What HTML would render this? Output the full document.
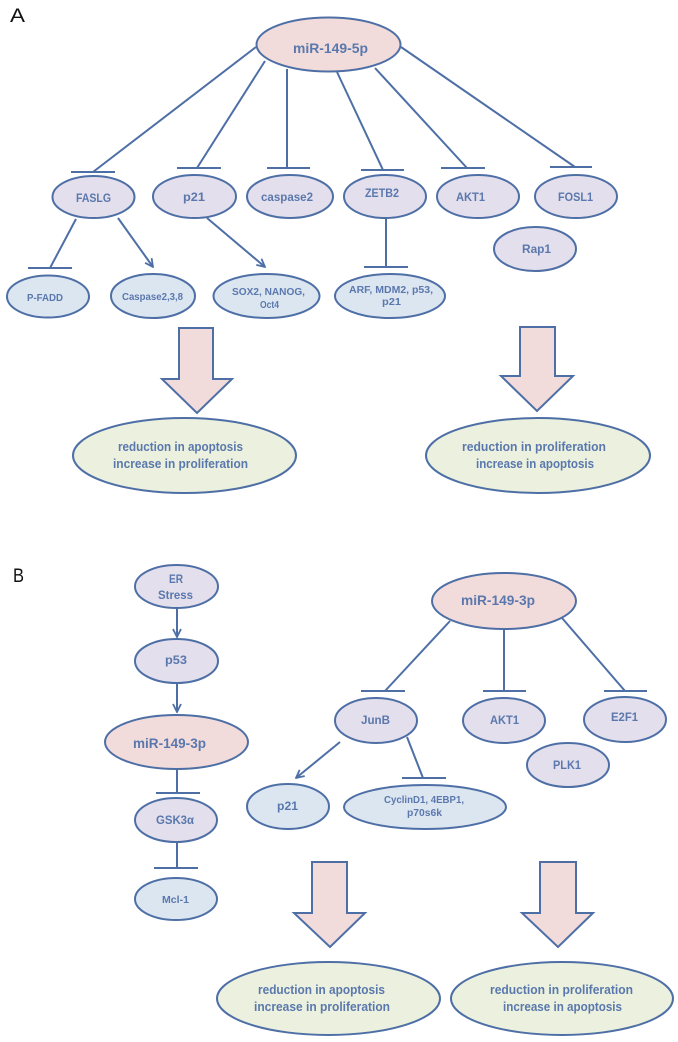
<!DOCTYPE html>
<html><head><meta charset="utf-8"><style>
html,body{margin:0;padding:0;background:#fff;}
svg{display:block;}
text{font-family:"Liberation Sans",Arial,sans-serif;font-weight:bold;fill:#5a78ad;}
</style></head><body>
<svg width="678" height="1042" viewBox="0 0 678 1042" xmlns="http://www.w3.org/2000/svg">
<defs>
<marker id="ah" viewBox="0 0 10 10" refX="9" refY="5" markerWidth="10" markerHeight="10" markerUnits="userSpaceOnUse" orient="auto">
<path d="M1,1 L9,5 L1,9" fill="none" stroke="#4e6fa6" stroke-width="1.8"/>
</marker>
</defs>
<g stroke="#4e6fa6" stroke-width="2" fill="none">
<!-- A connectors -->
<line x1="256" y1="47" x2="93" y2="172"/><line x1="71" y1="172" x2="115" y2="172"/>
<line x1="265" y1="61" x2="197" y2="168"/><line x1="177" y1="168" x2="221" y2="168"/>
<line x1="287" y1="69" x2="287" y2="168"/><line x1="267" y1="168" x2="310" y2="168"/>
<line x1="337" y1="72" x2="383" y2="170"/><line x1="361" y1="170" x2="404" y2="170"/>
<line x1="375" y1="68" x2="467" y2="168"/><line x1="441" y1="168" x2="485" y2="168"/>
<line x1="401" y1="47" x2="575" y2="167"/><line x1="550" y1="167" x2="592" y2="167"/>
<line x1="386" y1="218" x2="386" y2="267"/><line x1="364" y1="267" x2="408" y2="267"/>
<line x1="76" y1="219" x2="50" y2="268"/><line x1="28" y1="268" x2="72" y2="268"/>
<line x1="118" y1="218" x2="153" y2="267" marker-end="url(#ah)"/>
<line x1="207" y1="218" x2="265" y2="267" marker-end="url(#ah)"/>
<!-- B connectors -->
<line x1="177" y1="608" x2="177" y2="637" marker-end="url(#ah)"/>
<line x1="177" y1="683" x2="177" y2="712" marker-end="url(#ah)"/>
<line x1="177" y1="769" x2="177" y2="793"/><line x1="156" y1="793" x2="200" y2="793"/>
<line x1="177" y1="842" x2="177" y2="868"/><line x1="154" y1="868" x2="198" y2="868"/>
<line x1="450" y1="621" x2="385" y2="691"/><line x1="361" y1="691" x2="405" y2="691"/>
<line x1="504" y1="629" x2="504" y2="691"/><line x1="483" y1="691" x2="526" y2="691"/>
<line x1="562" y1="618" x2="625" y2="691"/><line x1="604" y1="691" x2="647" y2="691"/>
<line x1="407" y1="737" x2="423" y2="778"/><line x1="402" y1="778" x2="446" y2="778"/>
<line x1="340" y1="742" x2="296" y2="778" marker-end="url(#ah)"/>
</g>
<g stroke="#4e6fa6" stroke-width="2">
<!-- A nodes -->
<ellipse cx="328.5" cy="44.5" rx="72" ry="27" fill="#f2dcdb"/>
<ellipse cx="93.5" cy="197" rx="41" ry="21" fill="#e4dfec"/>
<ellipse cx="194.5" cy="196.5" rx="41.5" ry="21.5" fill="#e4dfec"/>
<ellipse cx="290" cy="196.5" rx="43" ry="21.5" fill="#e4dfec"/>
<ellipse cx="385" cy="196.5" rx="41" ry="21.5" fill="#e4dfec"/>
<ellipse cx="478" cy="196.5" rx="41" ry="21.5" fill="#e4dfec"/>
<ellipse cx="576" cy="196.5" rx="41" ry="21.5" fill="#e4dfec"/>
<ellipse cx="535" cy="249" rx="41" ry="22" fill="#e4dfec"/>
<ellipse cx="48" cy="296.5" rx="41" ry="21" fill="#dce6f1"/>
<ellipse cx="153" cy="296" rx="42" ry="22" fill="#dce6f1"/>
<ellipse cx="266.5" cy="296" rx="53" ry="22" fill="#dce6f1"/>
<ellipse cx="390" cy="296" rx="55" ry="22" fill="#dce6f1"/>
<polygon points="179,328 213,328 213,379 232,379 197,413 162,379 179,379" fill="#f2dcdb"/>
<polygon points="520,327 555,327 555,376 573,376 537,411 501,376 520,376" fill="#f2dcdb"/>
<ellipse cx="184.5" cy="455.5" rx="111.5" ry="37.5" fill="#ebf1de"/>
<ellipse cx="538" cy="455.5" rx="112" ry="37.5" fill="#ebf1de"/>
<!-- B nodes -->
<ellipse cx="176.5" cy="586.5" rx="41.5" ry="21.5" fill="#e4dfec"/>
<ellipse cx="176.5" cy="661" rx="41.5" ry="22" fill="#e4dfec"/>
<ellipse cx="176.5" cy="742" rx="71.5" ry="27" fill="#f2dcdb"/>
<ellipse cx="176" cy="820" rx="41" ry="22" fill="#e4dfec"/>
<ellipse cx="176" cy="899" rx="41" ry="21" fill="#dce6f1"/>
<ellipse cx="504" cy="601" rx="72" ry="28" fill="#f2dcdb"/>
<ellipse cx="376" cy="720.5" rx="41" ry="22.5" fill="#e4dfec"/>
<ellipse cx="504" cy="720.5" rx="41" ry="22.5" fill="#e4dfec"/>
<ellipse cx="625" cy="719.5" rx="41" ry="22.5" fill="#e4dfec"/>
<ellipse cx="568" cy="765" rx="41" ry="22" fill="#e4dfec"/>
<ellipse cx="288" cy="806.5" rx="41" ry="22.5" fill="#dce6f1"/>
<ellipse cx="425" cy="807" rx="81" ry="22" fill="#dce6f1"/>
<polygon points="312,862 347,862 347,913 365,913 330,947 294,913 312,913" fill="#f2dcdb"/>
<polygon points="540,862 576,862 576,913 593,913 558,947 522,913 540,913" fill="#f2dcdb"/>
<ellipse cx="328.5" cy="998.5" rx="111.5" ry="36.5" fill="#ebf1de"/>
<ellipse cx="562" cy="998.5" rx="111" ry="36.5" fill="#ebf1de"/>
</g>
<!-- labels -->
<text x="10" y="22" style="font-weight:normal;fill:#111;font-size:19px" textLength="15" lengthAdjust="spacingAndGlyphs">A</text>
<text x="13" y="582" style="font-weight:normal;fill:#111;font-size:19px" textLength="11" lengthAdjust="spacingAndGlyphs">B</text>
<g text-anchor="middle" font-size="12">
<text x="330.5" y="53" font-size="14" textLength="75" lengthAdjust="spacingAndGlyphs">miR-149-5p</text>
<text x="93.5" y="202" textLength="35" lengthAdjust="spacingAndGlyphs">FASLG</text>
<text x="194" y="201" textLength="22" lengthAdjust="spacingAndGlyphs">p21</text>
<text x="287" y="201" textLength="52" lengthAdjust="spacingAndGlyphs">caspase2</text>
<text x="382" y="197" textLength="34" lengthAdjust="spacingAndGlyphs">ZETB2</text>
<text x="470.5" y="201" textLength="29" lengthAdjust="spacingAndGlyphs">AKT1</text>
<text x="575.5" y="201" textLength="35" lengthAdjust="spacingAndGlyphs">FOSL1</text>
<text x="536.5" y="253" textLength="29" lengthAdjust="spacingAndGlyphs">Rap1</text>
<text x="45" y="301" font-size="10" textLength="36" lengthAdjust="spacingAndGlyphs">P-FADD</text>
<text x="152.5" y="300" font-size="10" textLength="61" lengthAdjust="spacingAndGlyphs">Caspase2,3,8</text>
<text x="268.5" y="295" font-size="10" textLength="73" lengthAdjust="spacingAndGlyphs">SOX2, NANOG,</text>
<text x="269.5" y="308" font-size="10" textLength="19" lengthAdjust="spacingAndGlyphs">Oct4</text>
<text x="391" y="293" font-size="10" textLength="84" lengthAdjust="spacingAndGlyphs">ARF, MDM2, p53,</text>
<text x="391.5" y="305" font-size="10" textLength="19" lengthAdjust="spacingAndGlyphs">p21</text>
<text x="180.5" y="451" font-size="13" textLength="125" lengthAdjust="spacingAndGlyphs">reduction in apoptosis</text>
<text x="180.5" y="468" font-size="13" textLength="135" lengthAdjust="spacingAndGlyphs">increase in proliferation</text>
<text x="534" y="451" font-size="13" textLength="144" lengthAdjust="spacingAndGlyphs">reduction in proliferation</text>
<text x="535" y="468" font-size="13" textLength="118" lengthAdjust="spacingAndGlyphs">increase in apoptosis</text>
<text x="176" y="583" textLength="14" lengthAdjust="spacingAndGlyphs">ER</text>
<text x="175.5" y="599" textLength="35" lengthAdjust="spacingAndGlyphs">Stress</text>
<text x="176" y="664" textLength="22" lengthAdjust="spacingAndGlyphs">p53</text>
<text x="169.5" y="748" font-size="14" textLength="73" lengthAdjust="spacingAndGlyphs">miR-149-3p</text>
<text x="175" y="824" textLength="38" lengthAdjust="spacingAndGlyphs">GSK3α</text>
<text x="175.5" y="903" font-size="10" textLength="27" lengthAdjust="spacingAndGlyphs">Mcl-1</text>
<text x="287.5" y="810" textLength="21" lengthAdjust="spacingAndGlyphs">p21</text>
<text x="424" y="803" font-size="10" textLength="80" lengthAdjust="spacingAndGlyphs">CyclinD1, 4EBP1,</text>
<text x="424.5" y="816" font-size="10" textLength="35" lengthAdjust="spacingAndGlyphs">p70s6k</text>
<text x="498" y="605" font-size="14" textLength="74" lengthAdjust="spacingAndGlyphs">miR-149-3p</text>
<text x="375.5" y="724" textLength="29" lengthAdjust="spacingAndGlyphs">JunB</text>
<text x="504.5" y="724" textLength="29" lengthAdjust="spacingAndGlyphs">AKT1</text>
<text x="624.5" y="721" textLength="27" lengthAdjust="spacingAndGlyphs">E2F1</text>
<text x="567" y="769" textLength="28" lengthAdjust="spacingAndGlyphs">PLK1</text>
<text x="321.5" y="994" font-size="13" textLength="127" lengthAdjust="spacingAndGlyphs">reduction in apoptosis</text>
<text x="322" y="1011" font-size="13" textLength="136" lengthAdjust="spacingAndGlyphs">increase in proliferation</text>
<text x="561.5" y="994" font-size="13" textLength="143" lengthAdjust="spacingAndGlyphs">reduction in proliferation</text>
<text x="562.5" y="1011" font-size="13" textLength="119" lengthAdjust="spacingAndGlyphs">increase in apoptosis</text>
</g>
</svg>
</body></html>
